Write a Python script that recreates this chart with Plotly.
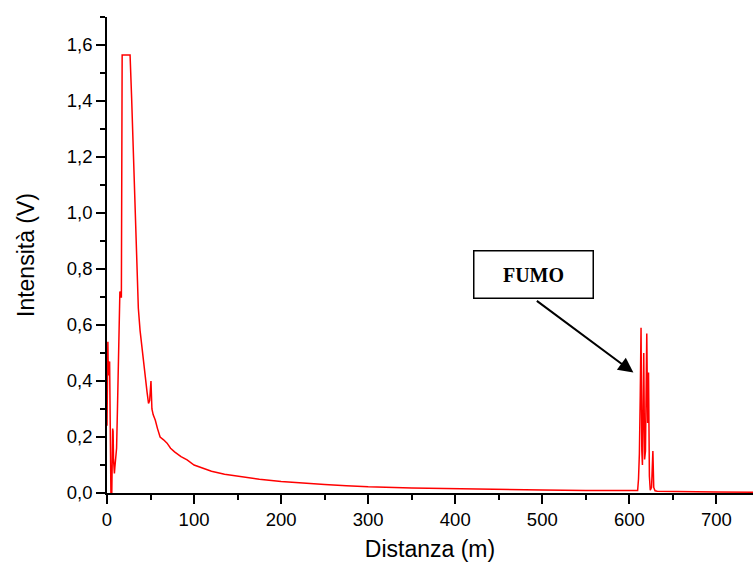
import plotly.graph_objects as go

# Backscatter trace: distance along the line (m) and detected intensity (V)
distanza = [0, 0.5, 1, 1.5, 2, 2.5, 3, 3.5, 4, 4.5, 5.5, 6, 6.5, 7, 7.5, 8, 8.5, 9,
            10, 11, 12, 13, 14, 14.8, 15.5, 16.5, 17.4, 26.5, 28.3, 30, 32.2, 34,
            36, 38, 40, 42, 44, 46, 47.7, 49, 50.5, 51, 51.6, 53, 55.5, 58, 61,
            65, 69, 73, 77.6, 85, 92, 100, 110, 120, 135, 150, 175, 200, 225,
            250, 275, 300, 350, 400, 450, 500, 550, 580, 600, 609.5, 610.5,
            611.5, 612.5, 613.4, 614.3, 615, 616.5, 617.5, 618.5, 620, 621, 622,
            623, 624, 625.5, 627, 628, 629.5, 632, 650, 700, 742]
intensita = [0.24, 0.40, 0.54, 0.42, 0.47, 0.45, 0.47, 0.30, 0.05, 0.0, 0.0, 0.10,
             0.23, 0.22, 0.12, 0.08, 0.07, 0.09, 0.12, 0.16, 0.30, 0.50, 0.68,
             0.72, 0.70, 0.70, 1.564, 1.564, 1.41, 1.25, 1.06, 0.85, 0.66, 0.58,
             0.52, 0.46, 0.41, 0.36, 0.32, 0.33, 0.40, 0.35, 0.30, 0.28, 0.26,
             0.23, 0.20, 0.19, 0.178, 0.16, 0.147, 0.13, 0.118, 0.10, 0.088,
             0.078, 0.067, 0.060, 0.049, 0.041, 0.035, 0.030, 0.026, 0.022,
             0.018, 0.015, 0.013, 0.011, 0.009, 0.008, 0.008, 0.009, 0.05, 0.14,
             0.35, 0.59, 0.15, 0.10, 0.50, 0.12, 0.15, 0.57, 0.25, 0.43, 0.06,
             0.01, 0.02, 0.15, 0.02, 0.008, 0.006, 0.005, 0.004, 0.003]

# Callout pointing at the smoke echo
fumo_testo = "FUMO"
fumo_box = (490, 0.779)
fumo_coda = (492, 0.69)
fumo_punta = (604.6, 0.43)

fig = go.Figure()
fig.add_trace(go.Scatter(x=distanza, y=intensita, mode="lines",
                         line=dict(color="#ff0000", width=1.5),
                         hoverinfo="skip", showlegend=False))

axis_common = dict(showline=True, linecolor="black", linewidth=1.5,
                   ticks="outside", ticklen=9, tickwidth=1.5, tickcolor="black",
                   showgrid=False, zeroline=False, mirror=False,
                   tickfont=dict(family="Liberation Sans, Arial", size=18.5, color="black"))
minor_common = dict(ticks="outside", ticklen=5, tickwidth=1.5,
                    tickcolor="black", showgrid=False)
title_font = dict(family="Liberation Sans, Arial", size=23, color="black")

fig.update_xaxes(range=[0, 742], dtick=100, tick0=0,
                 minor=dict(dtick=50, **minor_common),
                 title=dict(text="Distanza (m)", standoff=12, font=title_font),
                 **axis_common)
fig.update_yaxes(range=[0, 1.7], dtick=0.2, tick0=0, tickformat=".1f",
                 minor=dict(dtick=0.1, **minor_common),
                 title=dict(text="Intensità (V)", standoff=26, font=title_font),
                 **axis_common)

fig.add_annotation(x=fumo_box[0], y=fumo_box[1], xref="x", yref="y",
                   text="<b>" + fumo_testo + "</b>", showarrow=False,
                   font=dict(family="Liberation Serif, Times New Roman", size=20, color="black"),
                   bordercolor="black", borderwidth=1.5, borderpad=2,
                   bgcolor="white", width=114, height=42)
fig.add_annotation(x=fumo_punta[0], y=fumo_punta[1], xref="x", yref="y",
                   ax=fumo_coda[0], ay=fumo_coda[1], axref="x", ayref="y",
                   text="", showarrow=True, arrowhead=2, arrowsize=1.5,
                   arrowwidth=2, arrowcolor="black")

fig.update_layout(width=753, height=566, separators=",.",
                  margin=dict(l=107, r=0, t=17, b=73),
                  plot_bgcolor="white", paper_bgcolor="white")

fig.write_html("out.html")
